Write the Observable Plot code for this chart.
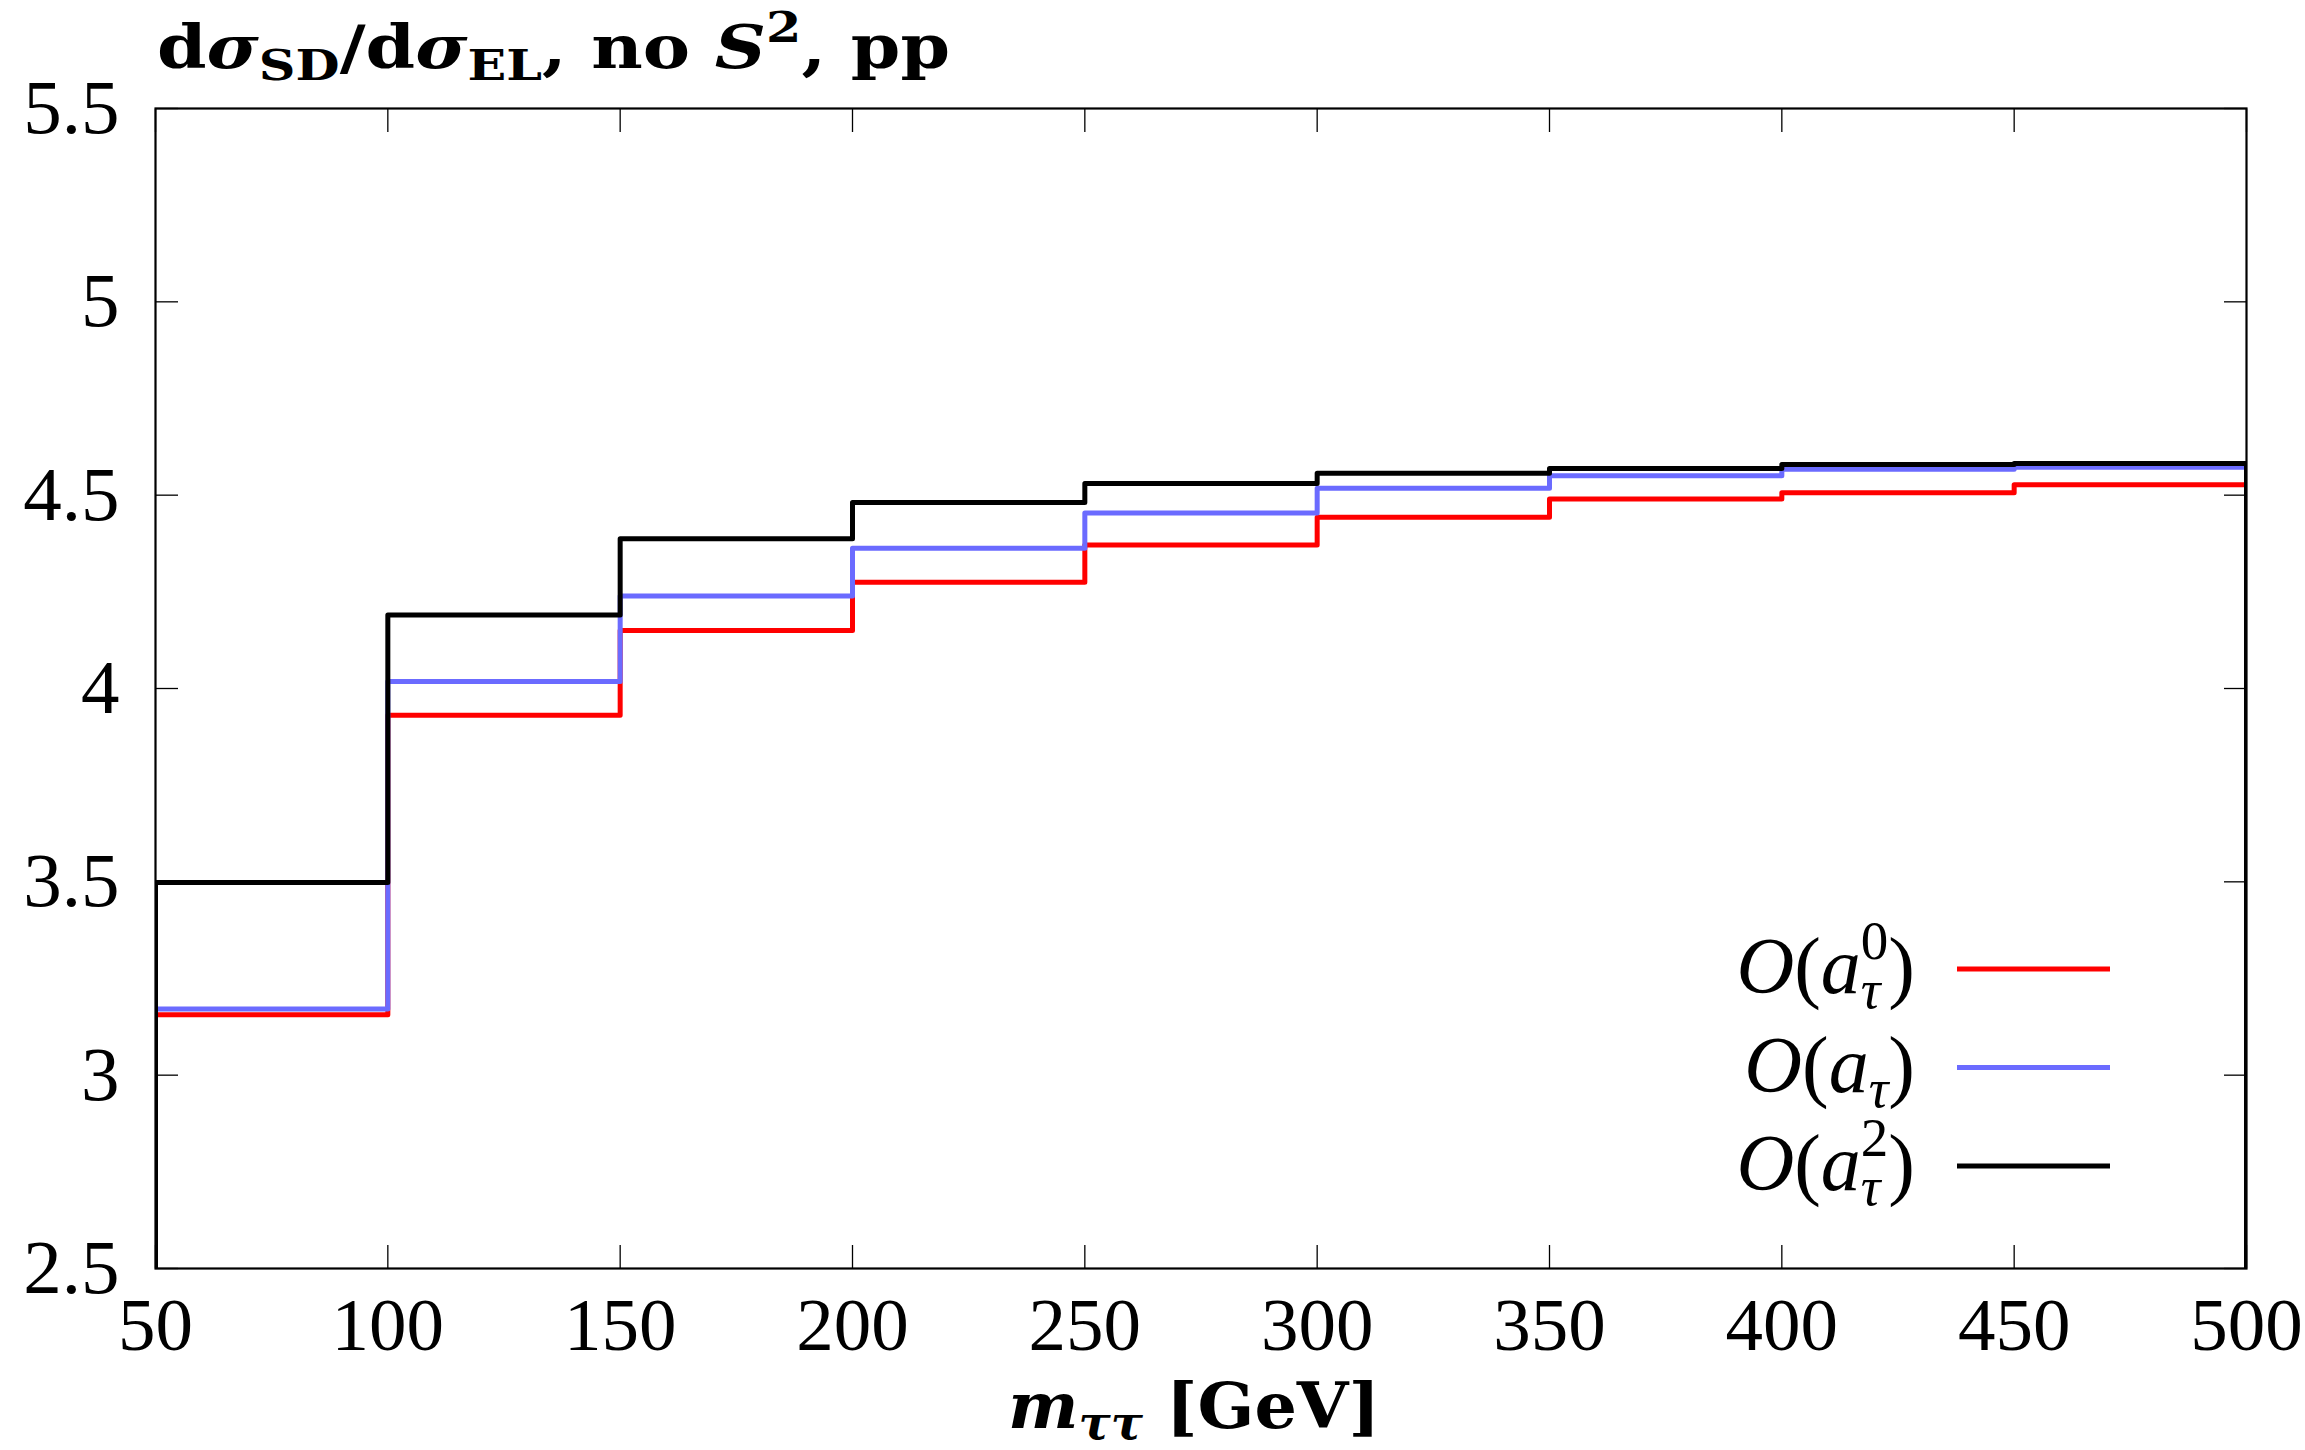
<!DOCTYPE html>
<html><head><meta charset="utf-8">
<script src="https://cdn.jsdelivr.net/npm/d3@7"></script>
<script src="https://cdn.jsdelivr.net/npm/@observablehq/plot@0.6"></script>
<style>body{margin:0;background:#fff}</style>
</head><body><div id="chart"></div>
<script>
// ---- data ----
const binEdges = [50, 100, 150, 200, 250, 300, 350, 400, 450, 500];
const seriesNames = ["a0", "a1", "a2"];
const valuesA0 = [3.156, 3.931, 4.150, 4.275, 4.371, 4.443, 4.490, 4.506, 4.527];
const valuesA1 = [3.171, 4.018, 4.239, 4.363, 4.454, 4.518, 4.550, 4.567, 4.572];
const valuesA2 = [3.498, 4.190, 4.387, 4.481, 4.530, 4.557, 4.569, 4.579, 4.582];
const seriesColors = ["#ff0000", "#6b6bff", "#000000"];
const xTicks = [50, 100, 150, 200, 250, 300, 350, 400, 450, 500];
const yTicks = [2.5, 3, 3.5, 4, 4.5, 5, 5.5];
const xDomain = [50, 500];
const yDomain = [2.5, 5.5];

const seriesValues = [valuesA0, valuesA1, valuesA2];
const rows = [];
seriesNames.forEach((s, k) => {
  const v = seriesValues[k];
  rows.push({series: s, x: binEdges[0], y: yDomain[0]});
  v.forEach((val, i) => rows.push({series: s, x: binEdges[i], y: val}));
  rows.push({series: s, x: binEdges[binEdges.length - 1], y: v[v.length - 1]});
  rows.push({series: s, x: binEdges[binEdges.length - 1], y: yDomain[0]});
});

const FONT = "'Liberation Serif', 'DejaVu Serif', serif";
const BFONT = "'DejaVu Serif', 'Liberation Serif', serif";
const W = 2305, H = 1450;
const mL = 155, mR = 59, mT = 108, mB = 182;

const plot = Plot.plot({
  width: W, height: H,
  marginTop: mT, marginRight: mR, marginBottom: mB, marginLeft: mL,
  x: {domain: xDomain, label: null},
  y: {domain: yDomain, label: null},
  color: {domain: seriesNames, range: seriesColors},
  style: {fontFamily: FONT, background: "white", color: "black", overflow: "visible"},
  marks: [
    Plot.line(rows, {x: "x", y: "y", z: "series", stroke: "series", curve: "step-after", strokeWidth: 5, clip: true}),
    Plot.axisX(xTicks, {anchor: "bottom", tickSize: 0, tickPadding: 28, fontSize: 75, label: null, tickFormat: d => String(d)}),
    Plot.axisY(yTicks, {anchor: "left", tickSize: 0, tickPadding: 36, fontSize: 77, label: null, tickFormat: d => String(d)}),
    Plot.axisX(xTicks, {anchor: "bottom", tickSize: -23, strokeWidth: 1.3, label: null, tickFormat: () => ""}),
    Plot.axisX(xTicks, {anchor: "top", tickSize: -23, strokeWidth: 1.3, label: null, tickFormat: () => ""}),
    Plot.axisY(yTicks, {anchor: "left", tickSize: -23, strokeWidth: 1.3, label: null, tickFormat: () => ""}),
    Plot.axisY(yTicks, {anchor: "right", tickSize: -23, strokeWidth: 1.3, label: null, tickFormat: () => ""}),
    Plot.frame({strokeWidth: 2.2})
  ]
});
document.getElementById("chart").appendChild(plot);

const svg = d3.select(plot);

// ---- title ----
const title = svg.append("text").attr("x", 157).attr("y", 68).attr("text-anchor", "start")
  .attr("font-family", BFONT).attr("font-size", 60).attr("font-weight", "bold").attr("fill", "black")
  .attr("textLength", 793).attr("lengthAdjust", "spacingAndGlyphs");
title.append("tspan").text("d");
title.append("tspan").attr("font-style", "italic").text("σ");
title.append("tspan").attr("font-size", 43).attr("dy", 12).text("SD");
title.append("tspan").attr("dy", -12).text("/d");
title.append("tspan").attr("font-style", "italic").text("σ");
title.append("tspan").attr("font-size", 43).attr("dy", 12).text("EL");
title.append("tspan").attr("dy", -12).text(", no ");
title.append("tspan").attr("font-style", "italic").text("S");
title.append("tspan").attr("font-size", 43).attr("dy", -26).text("2");
title.append("tspan").attr("dy", 26).text(", pp");

// ---- x label ----
const xl = svg.append("text").attr("x", 1008).attr("y", 1428).attr("text-anchor", "start")
  .attr("font-family", BFONT).attr("font-size", 64).attr("font-weight", "bold").attr("fill", "black")
  .attr("textLength", 372).attr("lengthAdjust", "spacingAndGlyphs");
xl.append("tspan").attr("font-style", "italic").text("m");
xl.append("tspan").attr("font-style", "italic").attr("font-size", 46).attr("dy", 11).text("ττ");
xl.append("tspan").attr("dy", -11).text(" [GeV]");

// ---- legend ----
const legendSup = ["0", null, "2"];
const legendY = [969, 1067.5, 1166];
function measure(str, size, italic) {
  const t = svg.append("text").attr("font-family", FONT).attr("font-size", size)
    .attr("font-style", italic ? "italic" : "normal").text(str);
  const w = t.node().getComputedTextLength();
  t.remove();
  return w;
}
const tauW = measure("τ", 55, true);
seriesNames.forEach((s, k) => {
  const y = legendY[k];
  svg.append("line").attr("x1", 1957).attr("x2", 2110).attr("y1", y).attr("y2", y)
    .attr("stroke", seriesColors[k]).attr("stroke-width", 5);
  const t = svg.append("text").attr("x", 1915).attr("y", y + 24).attr("text-anchor", "end")
    .attr("font-family", FONT).attr("font-size", 80).attr("fill", "black");
  t.append("tspan").attr("font-style", "italic").text("O");
  t.append("tspan").text("(");
  t.append("tspan").attr("font-style", "italic").text("a");
  t.append("tspan").attr("font-style", "italic").attr("font-size", 55).attr("dy", 15).text("τ");
  if (legendSup[k]) {
    t.append("tspan").attr("font-size", 55).attr("dx", -tauW).attr("dy", -49).text(legendSup[k]);
    t.append("tspan").attr("dy", 34).text(")");
  } else {
    t.append("tspan").attr("dy", -15).text(")");
  }
});
</script></body></html>
